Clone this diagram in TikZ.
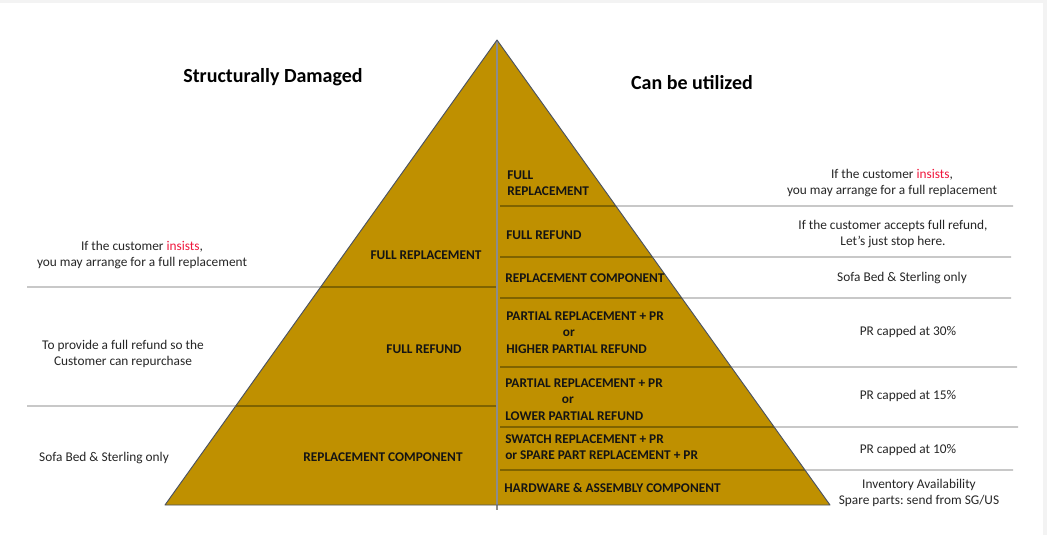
\documentclass[tikz,border=0pt]{standalone}
\usepackage{fontspec}
\setmainfont{Carlito}
\frenchspacing
\definecolor{gold}{HTML}{BF9000}
\definecolor{edgec}{HTML}{4A5262}
\definecolor{sepin}{HTML}{5E4B00}
\definecolor{sepout}{HTML}{ABABAB}
\definecolor{midl}{HTML}{8C8C8C}
\definecolor{txt}{HTML}{262626}
\definecolor{lblc}{HTML}{141414}
\definecolor{hot}{HTML}{F0163C}
\definecolor{bgc}{HTML}{F3F3F3}
\begin{document}
\begin{tikzpicture}[x=0.75pt,y=-0.75pt,
  note/.style={font=\fontsize{10}{12}\selectfont, text=txt, align=center, inner sep=0pt},
  lbl/.style={font=\fontsize{10}{12.2}\selectfont\bfseries, text=lblc, align=left, inner sep=0pt},
  title/.style={font=\fontsize{15}{18}\selectfont\bfseries, text=black, inner sep=0pt},
  outline/.style={line width=0.9pt, sepout},
  inline/.style={line width=0.8pt, sepin}]
\useasboundingbox (0,0) rectangle (1047,535);
\fill[bgc] (0,0) rectangle (1047,535);
\fill[white] (0,3) rectangle (1043,535);

\coordinate (apex) at (497,40);
\coordinate (bl) at (165,505);
\coordinate (br) at (830,505);
\coordinate (mb) at (497,510);
\fill[gold] (apex) -- (br) -- (bl) -- cycle;

% points on the edges
\path (apex) -- (bl) coordinate[pos=0.5312] (L1) coordinate[pos=0.7871] (L2);
\path (apex) -- (br) coordinate[pos=0.3570] (R1) coordinate[pos=0.4667] (R2)
  coordinate[pos=0.5548] (R3) coordinate[pos=0.7032] (R4)
  coordinate[pos=0.8323] (R5) coordinate[pos=0.9247] (R6);

% left separators
\coordinate (LO1) at (27,287); \coordinate (LC1) at (497,287);
\coordinate (LO2) at (27,406); \coordinate (LC2) at (497,406);
\draw[outline] (LO1) -- (L1); \draw[inline] (L1) -- (LC1);
\draw[outline] (LO2) -- (L2); \draw[inline] (L2) -- (LC2);

% right separators
\coordinate (RC1) at (500,206); \coordinate (RO1) at (1013,206);
\coordinate (RC2) at (500,257); \coordinate (RO2) at (1011,257);
\coordinate (RC3) at (500,298); \coordinate (RO3) at (1011,298);
\coordinate (RC4) at (500,367); \coordinate (RO4) at (1017,367);
\coordinate (RC5) at (500,427); \coordinate (RO5) at (1018,427);
\coordinate (RC6) at (500,470); \coordinate (RO6) at (1013,470);
\foreach \i in {1,...,6}{
  \draw[inline] (RC\i) -- (R\i);
  \draw[outline] (R\i) -- (RO\i);
}

% centre line and outline
\draw[line width=0.8pt, midl] (apex) -- (mb);
\draw[line width=0.7pt, edgec, line join=round] (apex) -- (br) -- (bl) -- cycle;

% titles
\node[title] (t1) at (273,77) {Structurally Damaged};
\node[title] (t2) at (692,83) {Can be utilized};

% left notes
\node[note] (n1) at (142,255) {If the customer \textcolor{hot}{insists},\\you may arrange for a full replacement};
\node[note] (n2) at (123,354) {To provide a full refund so the\\Customer can repurchase};
\node[note] (n3) at (104,458) {Sofa Bed \& Sterling only};

% left labels
\node[lbl] (a1) at (426,255) {FULL REPLACEMENT};
\node[lbl] (a2) at (424,349) {FULL REFUND};
\node[lbl] (a3) at (383,457) {REPLACEMENT COMPONENT};

% right labels
\node[lbl, anchor=west] (b1) at (507,183) {FULL\\REPLACEMENT};
\node[lbl, anchor=west] (b2) at (506,235) {FULL REFUND};
\node[lbl, anchor=west] (b3) at (505,278) {REPLACEMENT COMPONENT};
\node[lbl, anchor=west] (b4) at (506,332.5) {PARTIAL REPLACEMENT + PR\\\hspace*{42.5pt}or\\HIGHER PARTIAL REFUND};
\node[lbl, anchor=west] (b5) at (505,399.5) {PARTIAL REPLACEMENT + PR\\\hspace*{42.5pt}or\\LOWER PARTIAL REFUND};
\node[lbl, anchor=west] (b6) at (505,447) {SWATCH REPLACEMENT + PR\\or SPARE PART REPLACEMENT + PR};
\node[lbl, anchor=west] (b7) at (504,488) {HARDWARE \& ASSEMBLY COMPONENT};

% right notes
\node[note] (c1) at (892,183) {If the customer \textcolor{hot}{insists},\\you may arrange for a full replacement};
\node[note] (c2) at (893,234.5) {If the customer accepts full refund,\\Let's just stop here.};
\node[note] (c3) at (902,278) {Sofa Bed \& Sterling only};
\node[note] (c4) at (908,332) {PR capped at 30\%};
\node[note] (c5) at (908,396) {PR capped at 15\%};
\node[note] (c6) at (908,450) {PR capped at 10\%};
\node[note] (c7) at (919,493) {Inventory Availability\\Spare parts: send from SG/US};
\end{tikzpicture}
\end{document}
